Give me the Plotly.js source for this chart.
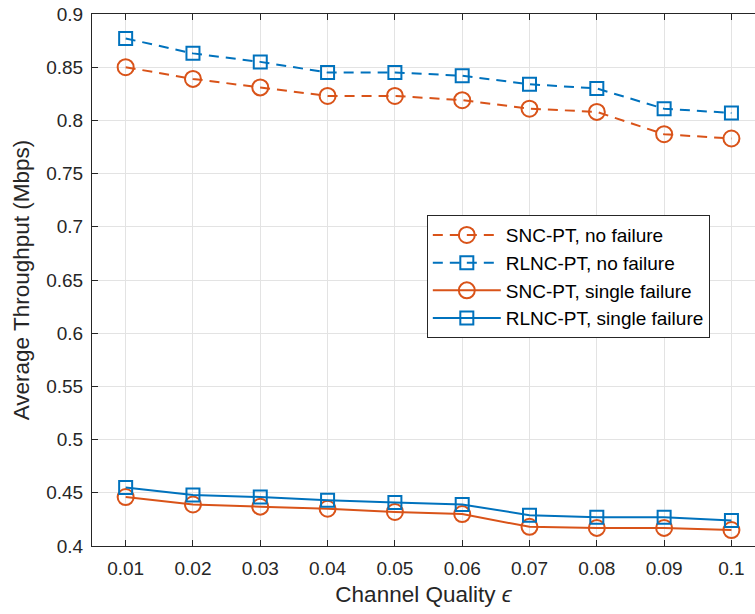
<!DOCTYPE html>
<html>
<head>
<meta charset="utf-8">
<script src="https://cdn.plot.ly/plotly-3.0.1.min.js"></script>
<style>html,body{margin:0;padding:0;background:#fff;}#chart{width:755px;height:614px;}</style>
</head>
<body>
<div id="chart"></div>
<script>
const epsilon = [0.01, 0.02, 0.03, 0.04, 0.05, 0.06, 0.07, 0.08, 0.09, 0.1];
const sncNoFailure = [0.850, 0.839, 0.831, 0.823, 0.823, 0.819, 0.811, 0.808, 0.787, 0.783];
const rlncNoFailure = [0.877, 0.863, 0.855, 0.845, 0.845, 0.842, 0.834, 0.830, 0.811, 0.807];
const sncSingleFailure = [0.446, 0.439, 0.437, 0.435, 0.432, 0.430, 0.418, 0.417, 0.417, 0.415];
const rlncSingleFailure = [0.455, 0.448, 0.446, 0.443, 0.441, 0.439, 0.429, 0.427, 0.427, 0.424];
const xTickLabels = ['0.01','0.02','0.03','0.04','0.05','0.06','0.07','0.08','0.09','0.1'];
const yTickVals = [0.4,0.45,0.5,0.55,0.6,0.65,0.7,0.75,0.8,0.85,0.9];
const yTickLabels = ['0.4','0.45','0.5','0.55','0.6','0.65','0.7','0.75','0.8','0.85','0.9'];

const orange = '#D95319', blue = '#0072BD';
const FONT = 'Liberation Sans, Arial, sans-serif';
function tr(name, y, color, dash, symbol, size) {
  return {x: epsilon, y: y, name: name, type: 'scatter', mode: 'lines+markers',
    line: {color: color, width: 2, dash: dash},
    marker: {symbol: symbol, size: size, color: color, line: {color: color, width: 2}}};
}
const data = [
  tr('SNC-PT, no failure', sncNoFailure, orange, '10px,7px', 'circle-open', 16),
  tr('RLNC-PT, no failure', rlncNoFailure, blue, '10px,7px', 'square-open', 13),
  tr('SNC-PT, single failure', sncSingleFailure, orange, 'solid', 'circle-open', 16),
  tr('RLNC-PT, single failure', rlncSingleFailure, blue, 'solid', 'square-open', 13)
];
const axisCommon = {showline: true, linecolor: '#262626', linewidth: 1, ticks: 'inside', ticklen: 6, tickcolor: '#262626',
  showgrid: true, gridcolor: '#e3e3e3', gridwidth: 1, zeroline: false,
  tickfont: {family: FONT, size: 19, color: '#262626'}};
const layout = {
  width: 755, height: 614,
  margin: {l: 92, r: 0, t: 13.5, b: 68},
  paper_bgcolor: '#fff', plot_bgcolor: '#fff',
  showlegend: true,
  xaxis: Object.assign({}, axisCommon, {range: [0.005, 0.1035], tickvals: epsilon, ticktext: xTickLabels, mirror: 'ticks',
    ticklabelstandoff: 5,
    title: {text: 'Channel Quality <i>ϵ</i>', standoff: 8, font: {family: FONT, size: 22.5, color: '#262626'}}}),
  yaxis: Object.assign({}, axisCommon, {range: [0.4, 0.9], tickvals: yTickVals, ticktext: yTickLabels,
    ticklabelstandoff: 4,
    title: {text: 'Average Throughput (Mbps)', standoff: 10, font: {family: FONT, size: 22.5, color: '#262626'}}}),
  legend: {x: 0.505, y: 0.622, xanchor: 'left', yanchor: 'top', bgcolor: '#fff', bordercolor: '#262626', borderwidth: 1,
    font: {family: FONT, size: 19, color: '#000'}, tracegroupgap: 0, itemwidth: 68}
};
Plotly.newPlot('chart', data, layout, {displayModeBar: false, staticPlot: true});
</script>
</body>
</html>
